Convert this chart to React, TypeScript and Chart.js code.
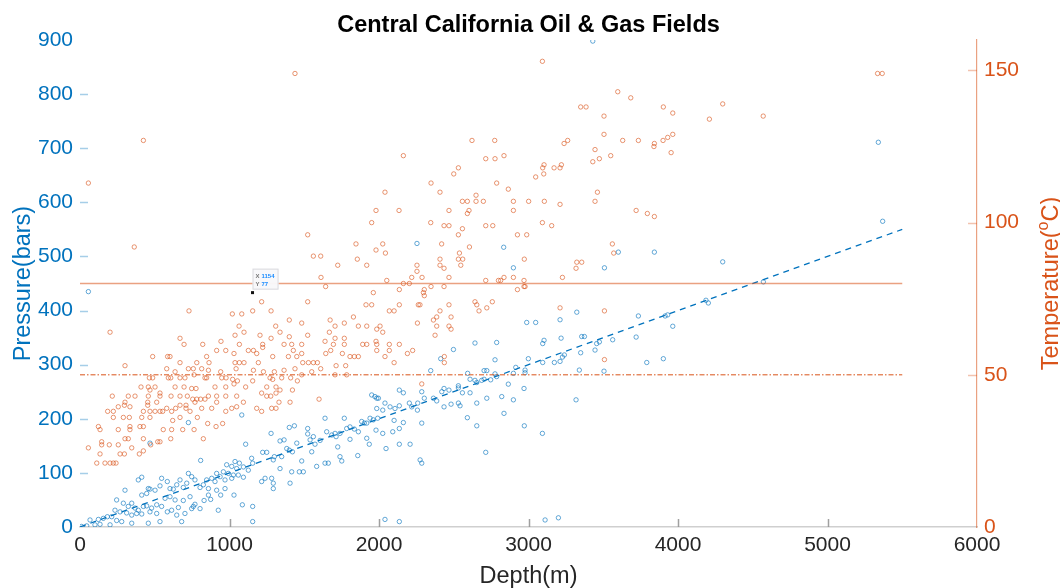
import React, { useEffect, useRef } from "react";
import { Chart, registerables } from "chart.js";

Chart.register(...registerables);

// ---------- data ----------
const chartTitle = "Central California Oil & Gas Fields";
const xTitle = "Depth(m)";
const leftTitle = "Pressure(bars)";
const rightTitleParts = ["Temperature(", "o", "C)"];

const depthTicks = [0, 1000, 2000, 3000, 4000, 5000, 6000];
const pressureTicks = [0, 100, 200, 300, 400, 500, 600, 700, 800, 900];
const temperatureTicks = [0, 50, 100, 150];

// [depth (m), pressure (bars)]
const pressureShallow: number[][] = [
  [11, 1], [45, 2], [67, 13], [100, 4], [123, 14], [134, 5], [156, 16], [183, 19], [201, 4], [212, 19],
  [234, 31], [245, 12], [245, 50], [268, 28], [279, 10], [290, 44], [301, 68], [312, 26], [323, 38], [346, 22],
  [346, 44], [346, 7], [368, 35], [379, 25], [390, 31], [390, 87], [413, 24], [413, 59], [413, 92], [424, 38],
  [446, 39], [446, 62], [457, 7], [457, 71], [468, 28], [468, 70], [468, 155], [479, 35], [502, 68], [513, 25],
  [513, 41], [535, 10], [535, 76], [546, 38], [546, 90], [569, 53], [584, 28], [584, 84], [602, 56], [602, 71],
  [613, 31], [624, 70], [636, 50], [647, 22], [647, 78], [658, 36], [669, 87], [680, 10], [691, 49], [691, 73],
  [702, 25], [714, 81], [725, 99], [725, 193], [736, 56], [747, 34], [747, 93], [758, 38], [769, 42], [769, 87],
  [803, 34], [803, 73], [807, 123], [825, 78], [830, 49], [847, 87], [859, 59], [859, 71], [874, 51], [881, 90],
  [903, 84], [914, 68], [914, 99], [925, 31], [937, 93], [941, 59], [959, 102], [970, 71], [970, 87], [981, 115],
  [992, 99], [1015, 90], [1015, 112], [1026, 96], [1030, 59], [1037, 121], [1048, 108], [1059, 96], [1066, 118], [1082, 207],
  [1086, 41], [1093, 92], [1093, 111], [1108, 153], [1126, 105], [1148, 127], [1155, 10], [1155, 38], [1155, 118], [1215, 84],
  [1222, 138], [1238, 90], [1249, 138], [1278, 173], [1282, 90], [1293, 71], [1293, 81], [1293, 124],
];
const pressureMid: number[][] = [
  [1300, 130], [1338, 108], [1338, 159], [1349, 130], [1365, 161], [1383, 145], [1400, 142], [1400, 184], [1405, 81], [1416, 102],
  [1421, 139], [1434, 187], [1450, 155], [1467, 102], [1483, 122], [1494, 102], [1523, 172], [1523, 182], [1539, 161], [1550, 139],
  [1561, 167], [1572, 153], [1583, 112], [1606, 160], [1639, 118], [1639, 201], [1650, 176], [1661, 118], [1684, 170], [1706, 173],
  [1713, 167], [1724, 148], [1739, 130], [1739, 173], [1751, 122], [1768, 201], [1784, 182], [1806, 162], [1806, 185], [1835, 181],
  [1858, 132], [1862, 176], [1884, 195], [1902, 192], [1918, 164], [1918, 192], [1935, 153], [1940, 201], [1951, 244], [1962, 198],
  [1973, 241], [1980, 179], [1985, 219], [1985, 238], [1991, 201], [1996, 238], [2025, 173], [2025, 216], [2040, 14], [2040, 229],
  [2047, 145], [2074, 222], [2092, 176], [2101, 197], [2107, 219], [2136, 10], [2136, 153], [2136, 182], [2136, 224], [2136, 253],
  [2163, 193], [2163, 248], [2203, 229], [2208, 153], [2219, 222], [2254, 524], [2257, 216], [2259, 229], [2275, 124], [2286, 118],
  [2286, 192], [2286, 250], [2303, 238], [2346, 289], [2364, 238], [2386, 233], [2413, 311], [2420, 250], [2435, 222], [2435, 256],
  [2468, 253], [2482, 227], [2498, 328], [2531, 229], [2531, 257], [2531, 261], [2542, 224], [2558, 248], [2591, 202], [2593, 284],
];
const pressureDeep: number[][] = [
  [2609, 248], [2609, 273], [2642, 271], [2642, 340], [2654, 187], [2654, 229], [2654, 267], [2687, 271], [2703, 273], [2703, 289],
  [2714, 138], [2721, 238], [2721, 289], [2747, 272], [2776, 283], [2776, 309], [2787, 278], [2787, 341], [2821, 241], [2834, 517],
  [2836, 210], [2865, 264], [2899, 235], [2899, 284], [2899, 479], [2915, 295], [2970, 256], [2972, 187], [2977, 285], [2977, 290],
  [2988, 378], [2999, 311], [3048, 378], [3093, 173], [3095, 304], [3095, 339], [3104, 345], [3111, 13], [3173, 304], [3200, 17],
  [3211, 306], [3211, 383], [3218, 349], [3227, 314], [3240, 318], [3318, 235], [3323, 397], [3340, 290], [3349, 322], [3356, 352],
  [3374, 352], [3430, 898], [3445, 327], [3456, 339], [3474, 342], [3505, 288], [3508, 479], [3563, 346], [3601, 508], [3720, 351],
  [3735, 390], [3791, 304], [3842, 508], [3902, 311], [3914, 390], [3931, 392], [3965, 371], [4187, 419], [4203, 414], [4299, 490],
  [4571, 453], [5340, 711], [5369, 565], [56, 435],
];

// [depth (m), temperature (°C)]
const temperatureShallow: number[][] = [
  [56, 26], [56, 113], [112, 21], [123, 33], [134, 24], [134, 32], [145, 27], [145, 28], [167, 21], [185, 38],
  [196, 27], [201, 21], [201, 64], [216, 43], [223, 21], [223, 36], [223, 38], [241, 21], [256, 27], [256, 32],
  [256, 39.5], [268, 24], [290, 36], [297, 24], [297, 40], [301, 29], [301, 41], [301, 53], [323, 29], [323, 43],
  [330, 36], [334, 32], [334, 33], [334, 39.5], [346, 26], [363, 92], [368, 43], [397, 24], [401, 33], [408, 46],
  [413, 36], [424, 25], [424, 29], [424, 33], [424, 38], [424, 127], [453, 40], [453, 41], [457, 43], [457, 46],
  [464, 49], [468, 36], [468, 38], [468, 45], [473, 27], [486, 49], [486, 56], [502, 38], [502, 46], [513, 41],
  [520, 28], [535, 28], [535, 38], [535, 43], [535, 44], [553, 38], [557, 32], [580, 39], [580, 52], [586, 56],
  [591, 49], [602, 56], [607, 29], [607, 49], [609, 43], [613, 32], [613, 38], [620, 35], [636, 46], [636, 51],
  [640, 39], [669, 36], [669, 40], [669, 43], [669, 49], [669, 54], [669, 62], [687, 32], [696, 46], [696, 60],
  [702, 49], [709, 39], [709, 40], [718, 43], [725, 52], [729, 71], [736, 38], [747, 45.5], [754, 42], [758, 52],
  [763, 32], [763, 50], [769, 41], [776, 45.5], [781, 42], [781, 54], [785, 36], [807, 42], [814, 39], [814, 52],
  [821, 60], [825, 29], [836, 42], [836, 49], [847, 49], [847, 56], [854, 34], [859, 43], [859, 51.5], [863, 54],
  [881, 39], [903, 46], [910, 33], [914, 41], [914, 43], [914, 58], [941, 51], [943, 61], [948, 49], [954, 34],
  [975, 38], [975, 43], [975, 46], [975, 58], [977, 49], [1015, 39], [1019, 70], [1021, 48.5], [1030, 47], [1030, 57],
];
const temperatureMid: number[][] = [
  [1037, 54], [1037, 63], [1044, 52], [1048, 39.5], [1048, 43], [1053, 48], [1064, 66], [1066, 54], [1066, 60], [1082, 70],
  [1093, 41], [1097, 54], [1097, 64], [1108, 46], [1126, 58], [1155, 48], [1155, 71], [1160, 51.5], [1160, 58], [1182, 39],
  [1182, 57], [1193, 54], [1204, 63], [1215, 38], [1215, 44], [1215, 74], [1222, 59], [1222, 60], [1227, 51], [1249, 43],
  [1249, 46], [1271, 49], [1276, 43], [1278, 62], [1278, 71], [1282, 39], [1289, 48.5], [1289, 56], [1300, 51], [1309, 66],
  [1311, 39], [1311, 44], [1311, 46], [1331, 41], [1338, 45], [1338, 64], [1349, 49], [1365, 51.5], [1365, 60], [1394, 56],
  [1400, 62.5], [1400, 68], [1405, 41], [1409, 49], [1416, 60], [1421, 45], [1427, 58], [1438, 52], [1438, 149], [1450, 56],
  [1454, 48], [1483, 50], [1483, 57], [1483, 60], [1483, 67], [1490, 54], [1523, 63], [1523, 74], [1523, 96], [1528, 54],
  [1550, 51], [1561, 54], [1561, 89], [1588, 54], [1599, 42], [1610, 52], [1610, 89], [1612, 82], [1639, 61], [1643, 79],
  [1644, 57], [1668, 64], [1673, 68], [1677, 58], [1695, 60], [1706, 50], [1706, 62], [1706, 66], [1713, 53], [1724, 86],
  [1755, 57], [1768, 60], [1768, 62], [1768, 67], [1777, 53], [1784, 50], [1806, 56], [1829, 69], [1835, 56], [1846, 93],
  [1855, 88], [1862, 56], [1862, 66], [1891, 60], [1913, 73], [1918, 60], [1918, 66], [1918, 86], [1951, 73], [1951, 100],
  [1962, 77], [1980, 61], [1980, 91], [1980, 104], [1985, 58], [1985, 60], [1985, 65], [2007, 66], [2025, 64], [2025, 93],
];
const temperatureDeep: number[][] = [
  [2040, 56], [2040, 110], [2043, 90], [2052, 81], [2069, 58], [2069, 60], [2069, 71], [2101, 54], [2101, 71], [2134, 104],
  [2136, 60], [2136, 73], [2136, 78], [2163, 80], [2163, 122], [2190, 57], [2203, 80], [2219, 82], [2225, 58], [2254, 84],
  [2254, 86], [2257, 67], [2263, 73], [2274, 73], [2286, 47], [2288, 82], [2297, 77], [2303, 76], [2303, 78], [2346, 100],
  [2348, 79], [2348, 113], [2364, 68], [2375, 63], [2386, 66], [2386, 69], [2408, 71], [2408, 86], [2408, 88], [2408, 110],
  [2419, 93], [2435, 79], [2435, 85], [2435, 99], [2437, 54], [2437, 56], [2468, 66], [2468, 73], [2468, 82], [2468, 99],
  [2468, 104], [2482, 65], [2482, 69], [2500, 116], [2531, 88], [2531, 96], [2531, 118], [2538, 90], [2547, 86], [2558, 98],
  [2558, 107], [2560, 88], [2591, 103], [2591, 107], [2602, 104], [2605, 92], [2622, 127], [2642, 74], [2649, 107], [2649, 109],
  [2654, 73], [2669, 71], [2698, 107], [2714, 81], [2714, 99], [2714, 121], [2721, 72], [2758, 74], [2761, 99], [2774, 127],
  [2776, 121], [2787, 113], [2799, 81], [2814, 81], [2836, 82], [2836, 122], [2865, 111], [2899, 82], [2899, 104], [2899, 107],
  [2926, 78], [2926, 96], [2970, 79], [2970, 81], [2972, 88], [2977, 79], [2988, 96], [3001, 107], [3048, 115], [3093, 100],
  [3093, 153], [3095, 118], [3102, 116], [3104, 119], [3106, 107], [3155, 99], [3171, 118], [3211, 72], [3211, 106], [3211, 118],
  [3220, 119], [3227, 82], [3238, 126], [3262, 127], [3318, 85], [3323, 87], [3349, 138], [3356, 87], [3385, 138], [3430, 120],
  [3445, 107], [3445, 124], [3461, 110], [3474, 121], [3505, 129], [3505, 135], [3508, 55], [3508, 71], [3550, 122], [3561, 93],
  [3570, 90], [3597, 143], [3630, 127], [3684, 141], [3720, 104], [3735, 127], [3795, 103], [3839, 125], [3842, 102], [3842, 126],
  [3900, 127], [3902, 138], [3931, 128], [3954, 123], [3965, 129], [3965, 136], [4210, 134], [4299, 139], [4570, 135], [5335, 149],
  [5366, 149],
];

// reference lines
const fitDepth = [0, 5500];
const fitPressure = [0, 550];
const refDepth = [0, 5500];
const refTempHigh = [80, 80];
const refTempLow = [50, 50];

// data tip
const tipDepth = 1154;
const tipTemp = 77;

// ---------- styling ----------
const BLUE = "rgb(0,114,189)";
const ORANGE = "rgb(217,83,25)";
const FONT = "'Liberation Sans', Arial, Helvetica, sans-serif";
const TITLE_SIZE = 23.5;
const TICK_SIZE = 21;

const toXY = (rows: number[][]) => rows.map(([x, y]) => ({ x, y }));
const lineXY = (xs: number[], ys: number[]) => xs.map((x, i) => ({ x, y: ys[i] }));

const decorPlugin = {
  id: "decor",
  afterDraw(chart: any) {
    const { ctx, chartArea: a, scales } = chart;
    const xs = scales.x, ys = scales.y, y1 = scales.y1;
    ctx.save();
    // inward ticks
    ctx.lineWidth = 1.5;
    ctx.strokeStyle = "rgba(150,150,150,0.9)";
    depthTicks.forEach((v) => {
      if (v === 0 || v === 6000) return;
      const px = Math.round(xs.getPixelForValue(v)) + 0.5;
      ctx.beginPath(); ctx.moveTo(px, a.bottom); ctx.lineTo(px, a.bottom - 8); ctx.stroke();
    });
    ctx.strokeStyle = "rgba(0,114,189,0.35)";
    pressureTicks.forEach((v) => {
      if (v === 0 || v === 900) return;
      const py = Math.round(ys.getPixelForValue(v)) + 0.5;
      ctx.beginPath(); ctx.moveTo(a.left, py); ctx.lineTo(a.left + 8, py); ctx.stroke();
    });
    ctx.strokeStyle = "rgba(217,83,25,0.35)";
    temperatureTicks.forEach((v) => {
      if (v === 0) return;
      const py = Math.round(y1.getPixelForValue(v)) + 0.5;
      ctx.beginPath(); ctx.moveTo(a.right, py); ctx.lineTo(a.right - 9, py); ctx.stroke();
    });

    // title
    const cx = (a.left + a.right) / 2;
    ctx.fillStyle = "#000";
    ctx.font = `bold ${TITLE_SIZE}px ${FONT}`;
    ctx.textAlign = "center";
    ctx.textBaseline = "alphabetic";
    ctx.fillText(chartTitle, cx, 32);

    // x title
    ctx.fillStyle = "#262626";
    ctx.font = `${TITLE_SIZE}px ${FONT}`;
    ctx.fillText(xTitle, cx, 583);

    const cy = (a.top + a.bottom) / 2;
    // left title
    ctx.save();
    ctx.translate(30, cy);
    ctx.rotate(-Math.PI / 2);
    ctx.fillStyle = BLUE;
    ctx.font = `${TITLE_SIZE}px ${FONT}`;
    ctx.textAlign = "center";
    ctx.fillText(leftTitle, 0, 0);
    ctx.restore();

    // right title with superscript
    ctx.save();
    ctx.translate(1058, cy);
    ctx.rotate(-Math.PI / 2);
    ctx.fillStyle = ORANGE;
    ctx.textAlign = "left";
    ctx.font = `${TITLE_SIZE}px ${FONT}`;
    const w0 = ctx.measureText(rightTitleParts[0]).width;
    const w2 = ctx.measureText(rightTitleParts[2]).width;
    ctx.font = `16px ${FONT}`;
    const w1 = ctx.measureText(rightTitleParts[1]).width;
    let sx = -(w0 + w1 + w2) / 2;
    ctx.font = `${TITLE_SIZE}px ${FONT}`;
    ctx.fillText(rightTitleParts[0], sx, 0);
    sx += w0;
    ctx.font = `16px ${FONT}`;
    ctx.fillText(rightTitleParts[1], sx, -10);
    sx += w1;
    ctx.font = `${TITLE_SIZE}px ${FONT}`;
    ctx.fillText(rightTitleParts[2], sx, 0);
    ctx.restore();

    // data tip
    const tx = xs.getPixelForValue(tipDepth);
    const ty = y1.getPixelForValue(tipTemp);
    ctx.fillStyle = "#111";
    ctx.fillRect(tx - 1.5, ty - 1.5, 3, 3);
    const bx = tx, by = ty - 24, bw = 26, bh = 21;
    ctx.fillStyle = "rgba(248,248,250,0.97)";
    ctx.fillRect(bx, by, bw, bh);
    ctx.strokeStyle = "rgba(215,215,220,0.9)";
    ctx.lineWidth = 1;
    ctx.strokeRect(bx + 0.5, by + 0.5, bw - 1, bh - 1);
    ctx.font = `bold 6px ${FONT}`;
    ctx.textAlign = "left";
    ctx.fillStyle = "#777";
    ctx.fillText("X", bx + 3, by + 9);
    ctx.fillText("Y", bx + 3, by + 17);
    ctx.fillStyle = "#1a8cff";
    ctx.fillText(String(tipDepth), bx + 9, by + 9);
    ctx.fillText(String(tipTemp), bx + 9, by + 17);
    ctx.restore();
  },
};

export default function App() {
  const ref = useRef<HTMLCanvasElement>(null);
  useEffect(() => {
    if (!ref.current) return;
    const scatterStyle = (color: string) => ({
      showLine: false,
      pointStyle: "circle",
      pointRadius: 2.2,
      pointBorderWidth: 0.9,
      pointBackgroundColor: "rgba(0,0,0,0)",
      pointBorderColor: color,
      borderColor: color,
    });
    const plain = (v: any) => String(v);
    const chart = new Chart(ref.current, {
      type: "scatter",
      data: {
        datasets: [
          {
            type: "line",
            data: lineXY(refDepth, refTempHigh),
            yAxisID: "y1",
            borderColor: "rgba(217,83,25,0.55)",
            borderWidth: 1.5,
            pointRadius: 0,
            showLine: true,
          } as any,
          {
            type: "line",
            data: lineXY(refDepth, refTempLow),
            yAxisID: "y1",
            borderColor: ORANGE,
            borderWidth: 1,
            borderDash: [5, 2, 1.5, 2],
            pointRadius: 0,
            showLine: true,
          } as any,
          {
            data: toXY([...temperatureShallow, ...temperatureMid, ...temperatureDeep]),
            yAxisID: "y1",
            ...scatterStyle("rgba(217,83,25,0.68)"),
          } as any,
          {
            data: toXY([...pressureShallow, ...pressureMid, ...pressureDeep]),
            yAxisID: "y",
            ...scatterStyle("rgba(0,114,189,0.68)"),
          } as any,
          {
            type: "line",
            data: lineXY(fitDepth, fitPressure),
            yAxisID: "y",
            borderColor: BLUE,
            borderWidth: 1.3,
            borderDash: [6, 5],
            pointRadius: 0,
            showLine: true,
          } as any,
        ],
      },
      options: {
        responsive: false,
        animation: false,
        layout: { padding: { top: 40, left: 0, right: 0, bottom: 0 } },
        plugins: {
          legend: { display: false },
          title: { display: false },
          tooltip: { enabled: false },
        },
        scales: {
          x: {
            type: "linear",
            min: 0,
            max: 6000,
            grid: { display: false, drawTicks: false },
            border: { display: true, color: "#cfcfcf", width: 1.5 },
            ticks: {
              stepSize: 1000,
              padding: 6,
              color: "#262626",
              font: { family: FONT, size: TICK_SIZE },
              maxRotation: 0,
              callback: plain,
            },
            afterFit: (s: any) => { s.height = 61; },
          },
          y: {
            type: "linear",
            position: "left",
            min: 0,
            max: 900,
            grid: { display: false, drawTicks: false },
            border: { display: false },
            ticks: {
              stepSize: 100,
              padding: 7,
              color: BLUE,
              font: { family: FONT, size: TICK_SIZE },
              callback: plain,
            },
            afterFit: (s: any) => { s.width = 80; },
          },
          y1: {
            type: "linear",
            position: "right",
            min: 0,
            max: 160,
            grid: { display: false, drawTicks: false },
            border: { display: true, color: "rgba(217,83,25,0.55)", width: 1.2 },
            ticks: {
              stepSize: 50,
              includeBounds: false,
              padding: 7,
              color: ORANGE,
              font: { family: FONT, size: TICK_SIZE },
              callback: plain,
            },
            afterFit: (s: any) => { s.width = 83; },
          },
        },
      } as any,
      plugins: [decorPlugin],
    });
    return () => chart.destroy();
  }, []);
  return (
    <div style={{ position: "absolute", left: 0, top: 0, width: 1060, height: 588, background: "#fff" }}>
      <canvas ref={ref} width={1060} height={588} style={{ display: "block" }} />
    </div>
  );
}
